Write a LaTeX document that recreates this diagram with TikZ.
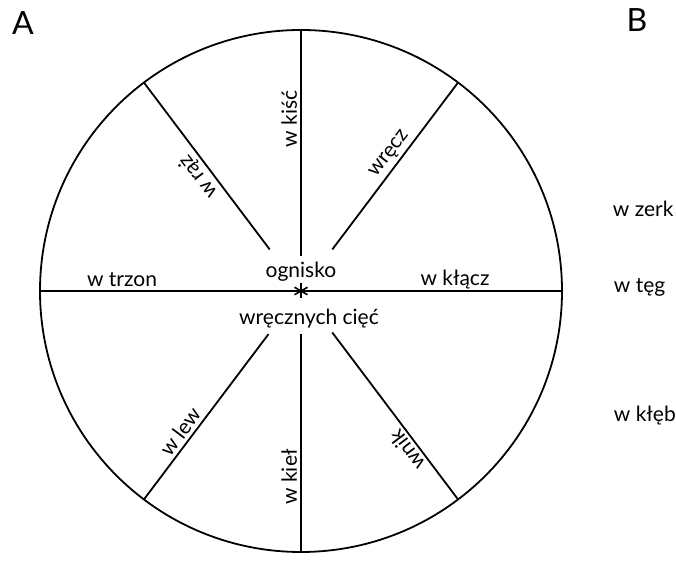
\documentclass[tikz,border=0pt]{standalone}
\usepackage{fontspec}
\setmainfont{Lato}
\usepackage{tikz}
\usetikzlibrary{calc, positioning}

\begin{document}
\begin{tikzpicture}[x=0.5pt, y=0.5pt, line width=0.9pt,
        etykieta/.style={font=\fontsize{10.5}{12}\selectfont, inner sep=1.5pt},
        litera/.style={font=\fontsize{16}{18}\selectfont, anchor=base}]
    \useasboundingbox (0,0) rectangle (676,561);
    % 1. Koło
    \coordinate (O) at (301,270);
    \draw (O) circle (261);

    % 2. Promienie i średnica
    \foreach \kat/\r in {90/35, 270/43, 53/52, 127/52, 233/54, 307/52} {
        \coordinate (a\kat) at ($(O)+(\kat:\r)$);
        \coordinate (b\kat) at ($(O)+(\kat:261)$);
        \draw (a\kat) -- (b\kat);
    }
    \coordinate (b0) at ($(O)+(0:261)$);
    \coordinate (b180) at ($(O)+(180:261)$);
    \draw (b180) -- (b0);

    % 3. Gwiazdka w środku
    \foreach \kat in {90, 30, 150} {
        \draw[line width=0.8pt] ($(O)+(\kat:7.5)$) -- ($(O)+(\kat+180:7.5)$);
    }

    % 4. Napisy przy środku
    \node[etykieta, anchor=base] (ognisko) at (301,283) {ognisko};
    \node[etykieta, anchor=base] (ciecia) at (309,236) {wręcznych cięć};
    \node[etykieta, anchor=base] (trzon) at (122,274) {w trzon};
    \node[etykieta, anchor=base] (klacz) at (455,275) {w kłącz};

    % 5. Napisy wzdłuż promieni
    \node[etykieta, anchor=south, rotate=90] (kisc) at ($(O)+(90:172)$) {w kiść};
    \node[etykieta, anchor=south, rotate=90] (kiel) at ($(O)+(270:186)$) {w kieł};
    \node[etykieta, anchor=south, rotate=53] (wrecz) at ($(O)+(53:163)$) {wręcz};
    \node[etykieta, anchor=south, rotate=127] (raz) at ($(O)+(127:153)$) {w rąż};
    \node[etykieta, anchor=south, rotate=53] (lew) at ($(O)+(233:185)$) {w lew};
    \node[etykieta, anchor=south, rotate=127] (wnik) at ($(O)+(307:191)$) {wnik};

    % 6. Kolumna B
    \node[etykieta, anchor=base west] (zerk) at (609,344) {w zerk};
    \node[etykieta, anchor=base west] (teg) at (610,268) {w tęg};
    \node[etykieta, anchor=base west] (kleb) at (610,139) {w kłęb};

    % 7. Litery
    \node[litera] (A) at (23,526) {A};
    \node[litera] (B) at (637,529) {B};
\end{tikzpicture}
\end{document}
